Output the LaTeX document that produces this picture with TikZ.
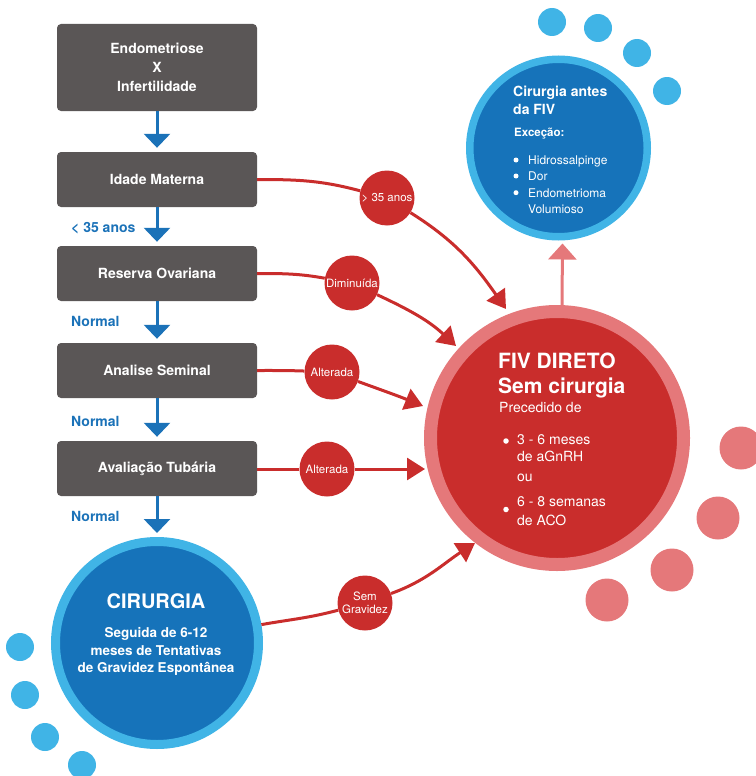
\documentclass[tikz,border=0pt]{standalone}
\usepackage{fontspec}
\setmainfont{TeX Gyre Heros}
\usetikzlibrary{arrows.meta,calc}

\definecolor{boxgray}{HTML}{5A5656}
\definecolor{flowblue}{HTML}{1B72B8}
\definecolor{lightblue}{HTML}{40B4E6}
\definecolor{deepblue}{HTML}{1673BA}
\definecolor{tagred}{HTML}{C92D2C}
\definecolor{softred}{HTML}{E5787A}

\newcommand{\setfs}[2]{\fontsize{#1}{#2}\selectfont}

\begin{document}
\begin{tikzpicture}[x=1pt,y=1pt,
  stepbox/.style={fill=boxgray, rounded corners=4pt, minimum width=200pt,
    minimum height=55pt, text=white, font=\setfs{14}{19}\bfseries,
    align=center, inner sep=0pt},
  flowarrow/.style={draw=flowblue, line width=3pt,
    -{Triangle[length=14pt,width=26pt]}, shorten >=4pt},
  flowlabel/.style={text=flowblue, font=\setfs{14}{16}\bfseries,
    anchor=base west, inner sep=0pt},
  tagdisc/.style={circle, fill=tagred, minimum size=55pt, inner sep=0pt,
    text=white, font=\setfs{11.5}{13}\selectfont, align=center},
  redlink/.style={draw=tagred, line width=3pt},
  redarrow/.style={redlink, -{Triangle[length=18pt,width=22pt]}},
  pinkarrow/.style={draw=softred, line width=3pt,
    -{Triangle[length=16pt,width=28pt]}},
  bubble/.style={circle, inner sep=0pt, minimum size=28pt, fill=lightblue},
  pinkbubble/.style={circle, inner sep=0pt, minimum size=43pt, fill=softred},
  whitedot/.style={circle, inner sep=0pt, minimum size=5.5pt, fill=white},
  wtext/.style={text=white, anchor=base west, inner sep=0pt},
  ctext/.style={text=white, anchor=base, inner sep=0pt},
]
\useasboundingbox (0,0) rectangle (755,-776);

% decorative dots
\node[bubble] (bd1) at (552,-22) {};
\node[bubble] (bd2) at (598,-28) {};
\node[bubble] (bd3) at (637,-53) {};
\node[bubble] (bd4) at (667,-91) {};
\node[bubble] (bd5) at (20,-647) {};
\node[bubble] (bd6) at (25,-695) {};
\node[bubble] (bd7) at (45,-737) {};
\node[bubble] (bd8) at (82,-765) {};
\node[pinkbubble] (pd1) at (741,-448) {};
\node[pinkbubble] (pd2) at (718,-518) {};
\node[pinkbubble] (pd3) at (672,-570) {};
\node[pinkbubble] (pd4) at (607,-600) {};

% decision steps
\node[stepbox, minimum height=87pt] (b1) at (157,-67.5) {Endometriose\\X\\Infertilidade};
\node[stepbox] (b2) at (157,-179.5) {Idade Materna};
\node[stepbox] (b3) at (157,-273.5) {Reserva Ovariana};
\node[stepbox] (b4) at (157,-370.5) {Analise Seminal};
\node[stepbox] (b5) at (157,-468.5) {Avaliação Tubária};

% outcome circles
\node[circle, fill=deepblue, draw=lightblue, line width=9pt, minimum size=203pt,
  inner sep=0pt] (cir1) at (157,-643) {};
\node[circle, fill=deepblue, draw=lightblue, line width=7.5pt, minimum size=177.5pt,
  inner sep=0pt] (cir2) at (558.5,-148) {};
\node[circle, fill=tagred, draw=softred, line width=13pt, minimum size=253pt,
  inner sep=0pt] (fiv) at (557,-438) {};

% blue flow
\draw[flowarrow] (b1.south) -- (b2.north);
\draw[flowarrow] (b2.south) -- (b3.north);
\draw[flowarrow] (b3.south) -- (b4.north);
\draw[flowarrow] (b4.south) -- (b5.north);
\draw[flowarrow] (b5.south) -- (cir1.north);
\node[flowlabel] (n1) at (71,-232) {< 35 anos};
\node[flowlabel] (n2) at (71,-326.5) {Normal};
\node[flowlabel] (n3) at (71,-426) {Normal};
\node[flowlabel] (n4) at (71,-521.5) {Normal};

% red tags
\node[tagdisc] (l1) at (387,-198) {> 35 anos};
\node[tagdisc] (l2) at (352,-283) {Diminuída};
\node[tagdisc] (l3) at (332,-372) {Alterada};
\node[tagdisc] (l4) at (327,-469) {Alterada};
\node[tagdisc] (l5) at (365,-603) {Sem\\Gravidez};

\coordinate (t1) at (506,-309);
\coordinate (t2) at (456,-346);
\coordinate (t3) at (423,-406);
\coordinate (t4) at (425,-469);
\coordinate (t5) at (475,-543);

\draw[redlink] (b2.east) to[out=0,in=165] (l1);
\draw[redarrow] (l1) to[out=-32,in=125] (t1);
\draw[redlink] (b3.east) to[out=0,in=170] (l2);
\draw[redarrow] (l2) to[out=-25,in=137] (t2);
\draw[redlink] (b4.east) to[out=0,in=178] (l3);
\draw[redarrow] (l3) to[out=-20,in=158] (t3);
\draw[redlink] (b5.east |- l4) -- (l4);
\draw[redarrow] (l4) -- (t4);
\draw[redlink] (cir1) to[out=10,in=-165] (l5);
\draw[redarrow] (l5) to[out=20,in=-147] (t5);

% pink link upwards
\draw[pinkarrow] ($(fiv.north)+(5,0)$) -- ($(cir2.south)+(4,-3)$);

% CIRURGIA text
\node[ctext, font=\setfs{20}{22}\bfseries] (c1t) at (156,-608.5) {CIRURGIA};
\node[ctext, font=\setfs{13.5}{16}\bfseries] (c1s1) at (156,-637.5) {Seguida de 6-12};
\node[ctext, font=\setfs{13.5}{16}\bfseries] (c1s2) at (156,-655) {meses de Tentativas};
\node[ctext, font=\setfs{13.5}{16}\bfseries] (c1s3) at (156,-672.7) {de Gravidez Espontânea};

% Cirurgia antes da FIV text
\node[wtext, font=\setfs{14}{17}\bfseries] (c2a) at (513,-96.7) {Cirurgia antes};
\node[wtext, font=\setfs{14}{17}\bfseries] (c2b) at (513,-114) {da FIV};
\node[wtext, font=\setfs{11.5}{14}\bfseries] (c2c) at (514,-136.5) {Exceção:};
\node[whitedot, minimum size=5pt] (c2d1) at (516,-160) {};
\node[whitedot, minimum size=5pt] (c2d2) at (516,-176) {};
\node[whitedot, minimum size=5pt] (c2d3) at (516,-192.7) {};
\node[wtext, font=\setfs{12}{14}] (c2e) at (528,-164) {Hidrossalpinge};
\node[wtext, font=\setfs{12}{14}] (c2f) at (528,-180.7) {Dor};
\node[wtext, font=\setfs{12}{14}] (c2g) at (528,-197.5) {Endometrioma};
\node[wtext, font=\setfs{12}{14}] (c2h) at (528,-213.3) {Volumioso};

% FIV DIRETO text
\node[wtext, font=\setfs{21}{24}\bfseries] (f1) at (498,-368) {FIV DIRETO};
\node[wtext, font=\setfs{21}{24}\bfseries] (f2) at (498,-393) {Sem cirurgia};
\node[wtext, font=\setfs{14}{17}] (f3) at (499,-412) {Precedido de};
\node[whitedot] (fd1) at (506,-441) {};
\node[wtext, font=\setfs{14}{17}] (f4) at (517,-444.5) {3 - 6 meses};
\node[wtext, font=\setfs{14}{17}] (f5) at (517,-461.7) {de aGnRH};
\node[wtext, font=\setfs{14}{17}] (f6) at (517,-481.7) {ou};
\node[whitedot] (fd2) at (506,-509.5) {};
\node[wtext, font=\setfs{14}{17}] (f7) at (517,-506.7) {6 - 8 semanas};
\node[wtext, font=\setfs{14}{17}] (f8) at (517,-525) {de ACO};
\end{tikzpicture}
\end{document}
